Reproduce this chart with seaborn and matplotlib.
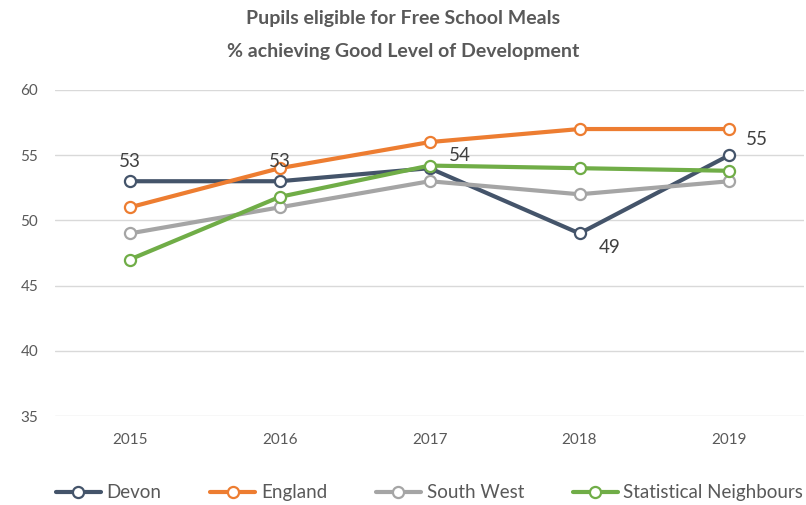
import matplotlib
matplotlib.use("Agg")
import matplotlib.pyplot as plt
import numpy as np
import pandas as pd
import seaborn as sns

years = ['2015', '2016', '2017', '2018', '2019']
devon = [53, 53, 54, 49, 55]
england = [51, 54, 56, 57, 57]
south_west = [49, 51, 53, 52, 53]
stat_neighbours = [47, 51.8, 54.2, 54.0, 53.8]

series_names = ['Devon', 'England', 'South West', 'Statistical Neighbours']
series_values = [devon, england, south_west, stat_neighbours]
colors = ['#44546A', '#ED7D31', '#A5A5A5', '#70AD47']

df = pd.DataFrame({
    'year': years * len(series_names),
    'value': sum(series_values, []),
    'series': np.repeat(series_names, len(years)),
})

sns.set_style('white')
plt.rcParams['font.family'] = ['Lato', 'DejaVu Sans']

fig = plt.figure(figsize=(8.06, 5.05), dpi=100)
ax = fig.add_axes([0.068, 0.176, 0.93, 0.646])

for name, col in zip(series_names, colors):
    sub = df[df['series'] == name]
    sns.lineplot(data=sub, x='year', y='value', ax=ax, color=col, linewidth=3,
                 marker='o', markersize=8, markerfacecolor='white',
                 markeredgecolor=col, markeredgewidth=1.6, label=name,
                 sort=False)

# data labels for Devon
offsets = [(0, 14), (0, 14), (22, 9), (22, -10), (20, 11)]
for i, (v, off) in enumerate(zip(devon, offsets)):
    ax.annotate(f'{v:g}', (i, v), xytext=off, textcoords='offset points',
                ha='center', va='center', fontsize=13.5, color='#404040')

ax.set_ylim(35, 60)
ax.set_xlim(-0.5, 4.5)
ax.set_yticks([35, 40, 45, 50, 55, 60])
ax.yaxis.grid(True, color='#D9D9D9', linewidth=1)
ax.xaxis.grid(False)
for s in ['top', 'right', 'left', 'bottom']:
    ax.spines[s].set_visible(False)
ax.tick_params(axis='both', length=0, labelsize=11, labelcolor='#595959', pad=12)
ax.set_xlabel('')
ax.set_ylabel('')

fig.suptitle('Pupils eligible for Free School Meals\n% achieving Good Level of Development',
             y=0.98, fontsize=14, fontweight='bold', color='#595959', linespacing=2.1)

ax.legend(loc='center', bbox_to_anchor=(0.5, -0.235), ncol=4, frameon=False,
          fontsize=13.5, labelcolor='#595959', handlelength=2.4, columnspacing=2.6,
          handletextpad=0.3)

fig.savefig('out.png', dpi=100)
